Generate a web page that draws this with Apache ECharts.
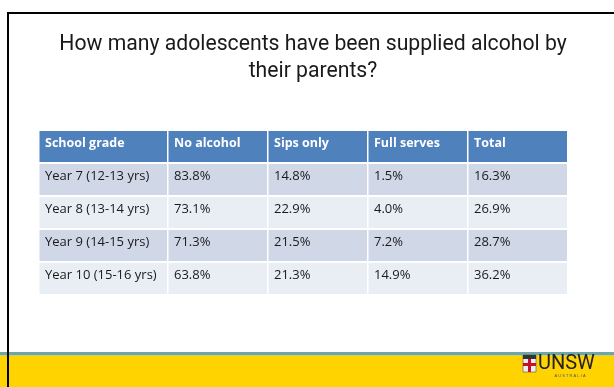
<!DOCTYPE html>
<html><head><meta charset="utf-8">
<script src="https://cdn.jsdelivr.net/npm/echarts@6/dist/echarts.min.js"></script>
<style>html,body{margin:0;padding:0;background:#fff}#c{width:614px;height:387px}</style>
</head><body><div id="c"></div>
<script>
var titleLines = ['How many adolescents have been supplied alcohol by', 'their parents?'];
var headers = ['School grade', 'No alcohol', 'Sips only', 'Full serves', 'Total'];
var grades = ['Year 7 (12-13 yrs)', 'Year 8 (13-14 yrs)', 'Year 9 (14-15 yrs)', 'Year 10 (15-16 yrs)'];
var noAlcohol = [83.8, 73.1, 71.3, 63.8];
var sipsOnly = [14.8, 22.9, 21.5, 21.3];
var fullServes = [1.5, 4.0, 7.2, 14.9];
var total = [16.3, 26.9, 28.7, 36.2];

var rowCats = ['header'].concat(grades);
var valueCols = [noAlcohol, sipsOnly, fullServes, total];

var firstColData = [[0, 0, headers[0], 'h']];
grades.forEach(function (g, i) { firstColData.push([0, i + 1, g, i % 2 ? 'e' : 'o']); });
var valData = [];
for (var c = 0; c < 4; c++) {
  valData.push([c, 0, headers[c + 1], 'h']);
  for (var r = 0; r < grades.length; r++) {
    valData.push([c, r + 1, valueCols[c][r].toFixed(1) + '%', r % 2 ? 'e' : 'o']);
  }
}
var fills = { h: '#4F81BD', o: '#D0D8E8', e: '#E9EDF4' };
var FONT = '"Open Sans", "Noto Sans", sans-serif';

function makeRender(arr) {
  return function (params, api) {
    var d = arr[params.dataIndex];
    var c = api.coord([d[0], d[1]]);
    var s = api.size([1, 1]);
    var kind = d[3];
    var x0 = c[0] - s[0] / 2, y0 = c[1] - s[1] / 2;
    return {
      type: 'group',
      children: [
        { type: 'rect', shape: { x: x0 + 0.5, y: y0 + 1, width: s[0] - 1.5, height: s[1] - 2 },
          style: { fill: fills[kind] } },
        { type: 'text', x: x0 + 6, y: y0 + 13,
          style: { text: d[2], fill: kind === 'h' ? '#fff' : '#1a1a1a',
            font: (kind === 'h' ? 'bold 12.5px ' : '13px ') + FONT,
            textAlign: 'left', textVerticalAlign: 'middle' } }
      ]
    };
  };
}

var TFONT = '21.2px Roboto, sans-serif';
var chart = echarts.init(document.getElementById('c'), null, { renderer: 'canvas' });
chart.setOption({
  animation: false,
  backgroundColor: '#fff',
  grid: [
    { left: 39, top: 130, width: 129, height: 165 },
    { left: 168, top: 130, width: 400, height: 165 }
  ],
  xAxis: [
    { type: 'category', gridIndex: 0, data: [headers[0]], show: false },
    { type: 'category', gridIndex: 1, data: headers.slice(1), show: false }
  ],
  yAxis: [
    { type: 'category', gridIndex: 0, data: rowCats, inverse: true, show: false },
    { type: 'category', gridIndex: 1, data: rowCats, inverse: true, show: false }
  ],
  series: [
    { type: 'custom', xAxisIndex: 0, yAxisIndex: 0, data: firstColData.map(function (d) { return [d[0], d[1]]; }), renderItem: makeRender(firstColData) },
    { type: 'custom', xAxisIndex: 1, yAxisIndex: 1, data: valData.map(function (d) { return [d[0], d[1]]; }), renderItem: makeRender(valData) }
  ],
  graphic: [
    { type: 'rect', shape: { x: 0, y: 352, width: 614, height: 3 }, style: { fill: '#6FA7A7' }, z: 1 },
    { type: 'rect', shape: { x: 0, y: 355, width: 614, height: 1 }, style: { fill: '#C9CC7A' }, z: 1 },
    { type: 'rect', shape: { x: 0, y: 356, width: 614, height: 31 }, style: { fill: '#FFD300' }, z: 1 },
    { type: 'rect', shape: { x: 8, y: 13, width: 620, height: 390 }, style: { fill: 'none', stroke: '#000', lineWidth: 2 }, z: 5 },
    { type: 'text', x: 313, y: 45, style: { text: titleLines[0], fill: '#1a1a1a', font: TFONT, textAlign: 'center', textVerticalAlign: 'middle' }, z: 5 },
    { type: 'text', x: 313, y: 72, style: { text: titleLines[1], fill: '#1a1a1a', font: TFONT, textAlign: 'center', textVerticalAlign: 'middle' }, z: 5 },
    { type: 'rect', shape: { x: 523, y: 355, width: 13, height: 17 }, style: { fill: '#eee', stroke: '#555', lineWidth: 0.6 }, z: 5 },
    { type: 'rect', shape: { x: 523, y: 355, width: 13, height: 4 }, style: { fill: '#333' }, z: 6 },
    { type: 'rect', shape: { x: 528, y: 359, width: 3, height: 13 }, style: { fill: '#C8102E' }, z: 6 },
    { type: 'rect', shape: { x: 523, y: 363, width: 13, height: 3 }, style: { fill: '#C8102E' }, z: 6 },
    { type: 'text', x: 538, y: 364, style: { text: 'UNSW', fill: '#222', font: '20px Roboto, sans-serif', textAlign: 'left', textVerticalAlign: 'middle' }, z: 6 },
    { type: 'text', x: 570, y: 376, style: { text: 'A U S T R A L I A', fill: '#555', font: '4px sans-serif', textAlign: 'center', textVerticalAlign: 'middle' }, z: 6 }
  ]
});
</script></body></html>
